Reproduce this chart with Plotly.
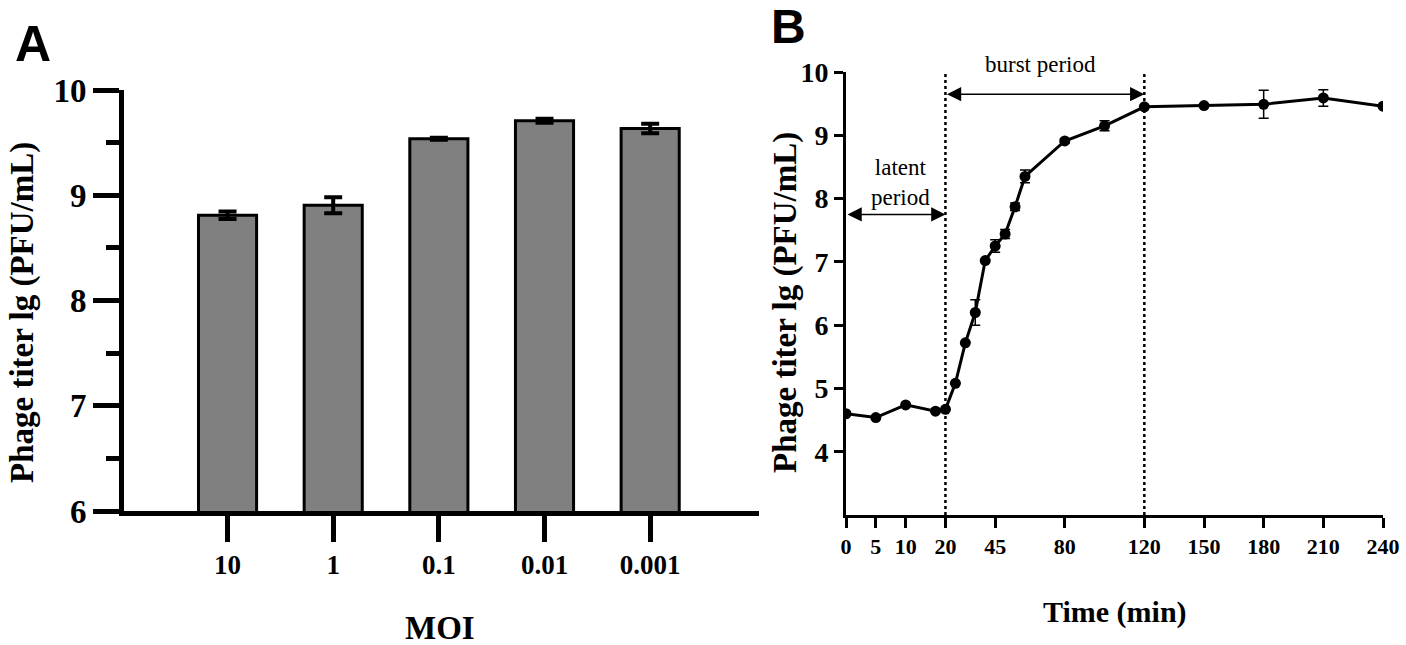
import plotly.graph_objects as go

# ---------------- data ----------------
moi_labels = ["10", "1", "0.1", "0.01", "0.001"]
moi_titer = [8.81, 8.905, 9.537, 9.708, 9.635]
moi_err = [0.035, 0.075, 0.01, 0.02, 0.045]

time_min = [0, 5, 10, 15, 20, 25, 30, 35, 40, 45, 50, 55, 60, 80, 100, 120, 150, 180, 210, 240]
time_titer = [4.60, 4.54, 4.74, 4.64, 4.67, 5.08, 5.72, 6.20, 7.02, 7.25, 7.44, 7.87, 8.35,
              8.91, 9.15, 9.45, 9.47, 9.49, 9.59, 9.46]
time_err = [0, 0, 0, 0, 0, 0, 0, 0.2, 0, 0.1, 0.07, 0.06, 0.1, 0.03, 0.08, 0, 0, 0.22, 0.13, 0]
time_ticks = [0, 5, 10, 20, 45, 80, 120, 150, 180, 210, 240]

y_ticks_a = [6, 7, 8, 9, 10]
y_ticks_b = [4, 5, 6, 7, 8, 9, 10]


# segmented time axis (0-15 min stretched 3x, linear afterwards)
def tpos(t):
    return 3 * t if t <= 15 else 45 + (t - 15)


W, H = 1406, 645


def px(x):
    return x / W


def py(y):
    return 1 - y / H


SERIF = "Liberation Serif"
SANS = "Liberation Sans"

fig = go.Figure()

# ---------------- panel A ----------------
fig.add_trace(go.Bar(
    x=moi_labels, y=moi_titer,
    marker=dict(color="#808080", line=dict(color="black", width=3)),
    width=0.55,
    error_y=dict(type="data", array=moi_err, color="black", thickness=4, width=9),
    xaxis="x", yaxis="y", showlegend=False,
))

# ---------------- panel B ----------------
fig.add_trace(go.Scatter(
    x=[tpos(t) for t in time_min], y=time_titer,
    mode="lines+markers",
    line=dict(color="black", width=3),
    marker=dict(color="black", size=11),
    error_y=dict(type="data", array=time_err, color="black", thickness=1.5, width=5),
    xaxis="x2", yaxis="y2", showlegend=False,
))

axis_common = dict(showgrid=False, zeroline=False, showline=True, linecolor="black",
                   ticks="outside", tickcolor="black", automargin=False)

fig.update_layout(
    width=W, height=H,
    margin=dict(l=0, r=0, t=0, b=0),
    plot_bgcolor="white", paper_bgcolor="white",
    bargap=0.45,
    xaxis=dict(**axis_common, domain=[px(124), px(759)], range=[-0.98, 5.03],
               linewidth=5, ticklen=26, tickwidth=5, type="category",
               tickfont=dict(family=SERIF, size=27, color="black", weight="bold"),
               anchor="y"),
    yaxis=dict(**axis_common, domain=[py(511), py(90)], range=[6, 10],
               tickvals=y_ticks_a, linewidth=5, ticklen=26, tickwidth=5,
               minor=dict(dtick=0.5, ticks="outside", ticklen=13, tickwidth=5,
                          tickcolor="black", showgrid=False),
               tickfont=dict(family=SERIF, size=33, color="black", weight="bold"),
               anchor="x"),
    xaxis2=dict(**axis_common, domain=[px(846), px(1383)], range=[0, tpos(240)],
                tickvals=[tpos(t) for t in time_ticks], ticktext=[str(t) for t in time_ticks],
                linewidth=3, ticklen=10, tickwidth=3,
                tickfont=dict(family=SERIF, size=22, color="black", weight="bold"),
                anchor="y2"),
    yaxis2=dict(**axis_common, domain=[py(515), py(72)], range=[3, 10],
                tickvals=y_ticks_b, linewidth=3, ticklen=9, tickwidth=3,
                tickfont=dict(family=SERIF, size=28, color="black", weight="bold"),
                anchor="x2"),
)

# dotted period boundaries
for t in [20, 120]:
    fig.add_shape(type="line", xref="x2", yref="y2", x0=tpos(t), x1=tpos(t), y0=3, y1=10.12,
                  line=dict(color="black", width=2.5, dash="dot"))

# double-headed arrows
fig.add_annotation(xref="x2", yref="y2", axref="x2", ayref="y2",
                   x=tpos(120), y=9.65, ax=tpos(20), ay=9.65, text="",
                   showarrow=True, arrowhead=2, arrowside="end+start", arrowsize=1.9,
                   arrowwidth=1.5, arrowcolor="black", standoff=0, startstandoff=0)
fig.add_annotation(xref="x2", yref="y2", axref="x2", ayref="y2",
                   x=tpos(20), y=7.75, ax=tpos(0), ay=7.75, text="",
                   showarrow=True, arrowhead=2, arrowside="end+start", arrowsize=1.9,
                   arrowwidth=1.5, arrowcolor="black", standoff=0, startstandoff=0)

texts = [
    dict(text="A", x=33, y=44, size=50, family=SANS, bold=True, angle=0),
    dict(text="B", x=788, y=27, size=48, family=SANS, bold=True, angle=0),
    dict(text="Phage titer lg (PFU/mL)", x=22, y=313, size=33, family=SERIF, bold=True, angle=-90),
    dict(text="Phage titer lg (PFU/mL)", x=785, y=303, size=33, family=SERIF, bold=True, angle=-90),
    dict(text="MOI", x=440, y=628, size=33, family=SERIF, bold=True, angle=0),
    dict(text="Time (min)", x=1115, y=612, size=30, family=SERIF, bold=True, angle=0),
    dict(text="burst period", x=1040, y=65, size=23, family=SERIF, bold=False, angle=0),
    dict(text="latent<br>period", x=900, y=183, size=23, family=SERIF, bold=False, angle=0),
]
for t in texts:
    fig.add_annotation(xref="paper", yref="paper", x=px(t["x"]), y=py(t["y"]),
                       xanchor="center", yanchor="middle", text=t["text"], showarrow=False,
                       textangle=t["angle"],
                       font=dict(family=t["family"], size=t["size"], color="black",
                                 weight="bold" if t["bold"] else "normal"))

fig.write_html("out.html", config={"displayModeBar": False},
               post_script="document.body.style.margin='0';document.body.style.overflow='hidden';")
